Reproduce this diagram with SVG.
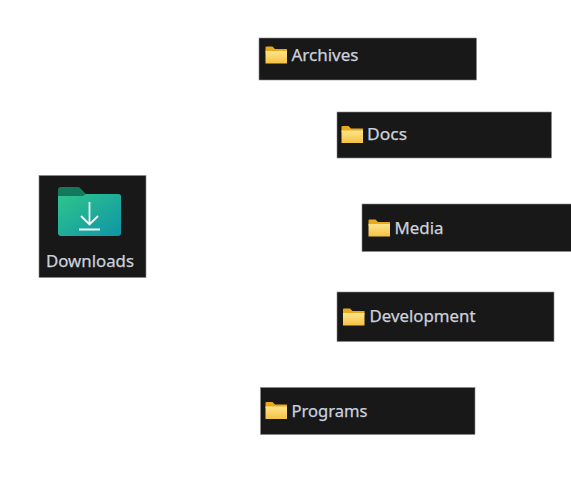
<svg xmlns="http://www.w3.org/2000/svg" width="571" height="480" viewBox="0 0 571 480">
<defs>
<linearGradient id="fy" x1="0" y1="0" x2="0" y2="1"><stop offset="0" stop-color="#ffe48a"/><stop offset="1" stop-color="#f3c244"/></linearGradient>
<linearGradient id="fg" x1="0" y1="0" x2="1" y2="1"><stop offset="0" stop-color="#2fc58c"/><stop offset="1" stop-color="#0f95a6"/></linearGradient>
<symbol id="folder" overflow="visible">
<path d="M0 1Q0 0 1 0H7L9.500 2.500H21.500V6H0Z" fill="#e9a91f"/>
<path d="M0 4.500H21.500V17H0Z" fill="url(#fy)"/>
</symbol>
</defs>
<style>
.box{fill:#181818;stroke:#8a8a8a;stroke-width:.6}
.t{font-family:"Noto Sans","Open Sans",sans-serif;font-size:16.5px;fill:#ccd2dc;stroke:#ccd2dc;stroke-width:.25}
</style>
<rect width="571" height="480" fill="#fff"/>
<g id="downloads">
<rect class="box" x="39" y="175.500" width="107" height="102"/>
<path d="M58 190Q58 187 61 187H79L86 194H118Q121 194 121 197V200H58Z" fill="#14795c"/>
<path d="M58 196H83L86 194H118Q121 194 121 197V233Q121 236 118 236H61Q58 236 58 233Z" fill="url(#fg)"/>
<path d="M89.500 202V224M81 216L89.500 224.500L98 216M79 229.500H100" fill="none" stroke="#f2f7f5" stroke-width="1.800"/>
<text class="t" x="46" y="267" textLength="88" lengthAdjust="spacingAndGlyphs">Downloads</text>
</g>
<g id="archives">
<rect class="box" x="259" y="38" width="217.500" height="42"/>
<use href="#folder" x="265.500" y="46.500"/>
<text class="t" x="291.500" y="61" textLength="67" lengthAdjust="spacingAndGlyphs">Archives</text>
</g>
<g id="docs">
<rect class="box" x="337" y="112" width="214.500" height="46"/>
<use href="#folder" x="341.500" y="126"/>
<text class="t" x="367" y="140" textLength="40" lengthAdjust="spacingAndGlyphs">Docs</text>
</g>
<g id="media">
<rect class="box" x="362" y="204" width="212" height="47.500"/>
<use href="#folder" x="368.500" y="219.500"/>
<text class="t" x="394.500" y="234" textLength="49" lengthAdjust="spacingAndGlyphs">Media</text>
</g>
<g id="development">
<rect class="box" x="337" y="292" width="217" height="49.500"/>
<use href="#folder" x="343" y="308.500"/>
<text class="t" x="369.500" y="322" textLength="106" lengthAdjust="spacingAndGlyphs">Development</text>
</g>
<g id="programs">
<rect class="box" x="260.500" y="387.500" width="214.500" height="47"/>
<use href="#folder" x="265.500" y="402"/>
<text class="t" x="291.500" y="417" textLength="76" lengthAdjust="spacingAndGlyphs">Programs</text>
</g>
<g id="connectors"></g>
</svg>
